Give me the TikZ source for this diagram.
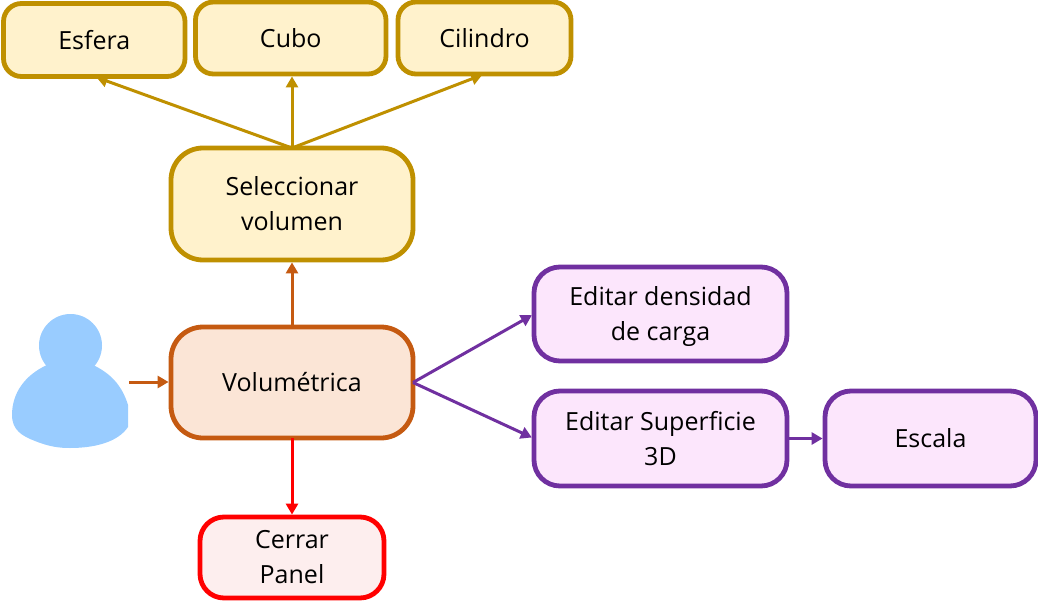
\documentclass[tikz,border=0pt]{standalone}
\usepackage{fontspec}
\setmainfont{Open Sans}
\usetikzlibrary{arrows.meta}
\definecolor{gold}{HTML}{BF9000}
\definecolor{goldf}{HTML}{FFF2CC}
\definecolor{org}{HTML}{C55A11}
\definecolor{orgf}{HTML}{FBE5D6}
\definecolor{pur}{HTML}{7030A0}
\definecolor{purf}{HTML}{FCE6FC}
\definecolor{redf}{HTML}{FDEEEE}
\definecolor{usr}{HTML}{99CCFF}
\tikzset{
 x=1pt,y=-1pt,
 boxn/.style={draw,line width=4.8pt,rounded corners=#1,inner sep=0pt,outer sep=0pt,align=center,font=\fontsize{25}{35}\selectfont,text=black},
 boxn/.default=16pt,
 gb/.style={boxn=#1,draw=gold,fill=goldf},
 ob/.style={boxn=#1,draw=org,fill=orgf},
 pb/.style={boxn=#1,draw=pur,fill=purf},
 rb/.style={boxn=#1,draw=red,fill=redf},
 conn/.style={line width=3pt,-{Triangle[length=11pt,width=12pt]},shorten >=2.4pt},
}
\newcommand{\bx}[8]{\node[#1=#2,minimum width=#5pt-#3pt,minimum height=#6pt-#4pt] (#7) at ({(#3+#5)/2},{(#4+#6)/2}) {#8};}
\begin{document}
\begin{tikzpicture}
\useasboundingbox (0,0) rectangle (1038,610);
\bx{gb}{18pt}{3.5}{3.5}{185}{76.5}{esfera}{Esfera}
\bx{gb}{18pt}{195.5}{2}{386}{74}{cubo}{Cubo}
\bx{gb}{18pt}{398}{2}{571}{74}{cil}{Cilindro}
\bx{gb}{32pt}{171}{148}{413}{260}{sel}{Seleccionar\\volumen}
\bx{ob}{32pt}{171}{327}{413}{438}{vol}{Volumétrica}
\bx{pb}{26pt}{534}{267}{787}{361}{dens}{Editar densidad\\de car\smash{g}a}
\bx{pb}{26pt}{534}{391}{787}{486}{sup}{Editar Superficie\\3D}
\bx{pb}{26pt}{825}{391}{1036}{486}{esc}{Escala}
\bx{rb}{24pt}{200}{517}{384}{598}{cerrar}{Cerrar\\Panel}
\fill[usr] (70.5,345.5) circle (31.5);
\fill[usr] (47,365) .. controls (25,375) and (12,393) .. (12,415) .. controls (12,430) and (22,436) .. (35,441) .. controls (50,447) and (60,448) .. (70,448) .. controls (95,448) and (118,442) .. (128,427) -- (128,405) .. controls (122,385) and (110,373) .. (93,365) -- cycle;
\coordinate (usr) at (129,382);
\draw[conn,draw=org,fill=org] (usr) -- (usr -| vol.west);
\draw[conn,draw=org,fill=org] (vol.north) -- (sel.south);
\draw[conn,draw=red,fill=red] (vol.south) -- (cerrar.north);
\draw[conn,draw=gold,fill=gold] (sel.north) -- (esfera.south);
\draw[conn,draw=gold,fill=gold] (sel.north) -- (sel.north |- cubo.south);
\draw[conn,draw=gold,fill=gold] (sel.north) -- (cil.south);
\draw[conn,draw=pur,fill=pur] (vol.east) -- (dens.west);
\draw[conn,draw=pur,fill=pur] (vol.east) -- (sup.west);
\draw[conn,draw=pur,fill=pur] (sup.east) -- (esc.west);
\end{tikzpicture}
\end{document}
